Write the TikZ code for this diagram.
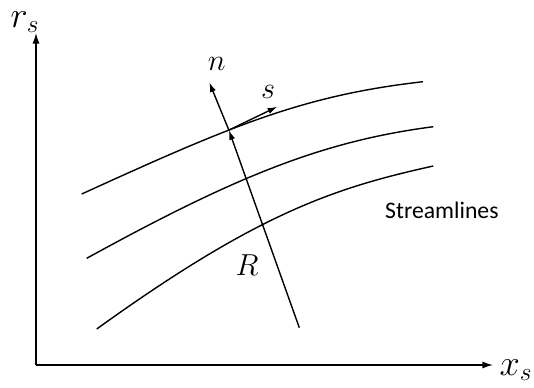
\documentclass[tikz,border=0pt]{standalone}
\usepackage{fontspec}
\newfontfamily\labelfont{Carlito}
\usetikzlibrary{arrows.meta}
\tikzset{
    axis/.style={line width=0.8pt, -{Latex[length=6pt,width=4pt]}},
    stream/.style={line width=0.8pt},
    vec/.style={line width=0.8pt, -{Latex[length=5.5pt,width=3.5pt]}},
    biglabel/.style={font=\fontsize{20}{22}\selectfont},
    smalllabel/.style={font=\fontsize{17}{19}\selectfont}
}
\begin{document}
\begin{tikzpicture}[x=0.02cm, y=-0.02cm]
    \useasboundingbox (0,0) rectangle (534,387);

    % Axes
    \coordinate (origin) at (36,365);
    \coordinate (ytop) at (36,33);
    \coordinate (xend) at (493,365);
    \draw[axis] (origin) -- (ytop);
    \draw[axis] (origin) -- (xend);
    \node[biglabel, inner sep=1pt] (rs) at (25,22) {$r_s$};
    \node[biglabel] (xs) at (516,370) {$x_s$};

    % Streamlines
    \draw[stream] (81.7,194) .. controls (231.7,125.6) and (303,95.3) .. (423,81.7)
        coordinate[pos=0.39] (point);
    \draw[stream] (86.7,258.3) .. controls (236.7,175.8) and (323.3,141) .. (433.3,126.7);
    \draw[stream] (96.7,329) .. controls (256.7,213.8) and (333.3,188) .. (433.3,166);
    \node[anchor=west, font=\labelfont\fontsize{13.5}{15}\selectfont] (streamlines) at (379,210) {Streamlines};

    % Local frame
    \coordinate (centre) at (299.3,327.7);
    \coordinate (ntip) at (209.3,82.3);
    \coordinate (stip) at (277.3,106.7);
    \draw[vec] (centre) -- (point);
    \draw[vec] (point) -- (ntip);
    \draw[vec] (point) -- (stip);
    \node[smalllabel] (n) at (216.7,64) {$n$};
    \node[smalllabel] (s) at (268,92) {$s$};
    \node[smalllabel] (R) at (247,265) {$R$};
\end{tikzpicture}
\end{document}
